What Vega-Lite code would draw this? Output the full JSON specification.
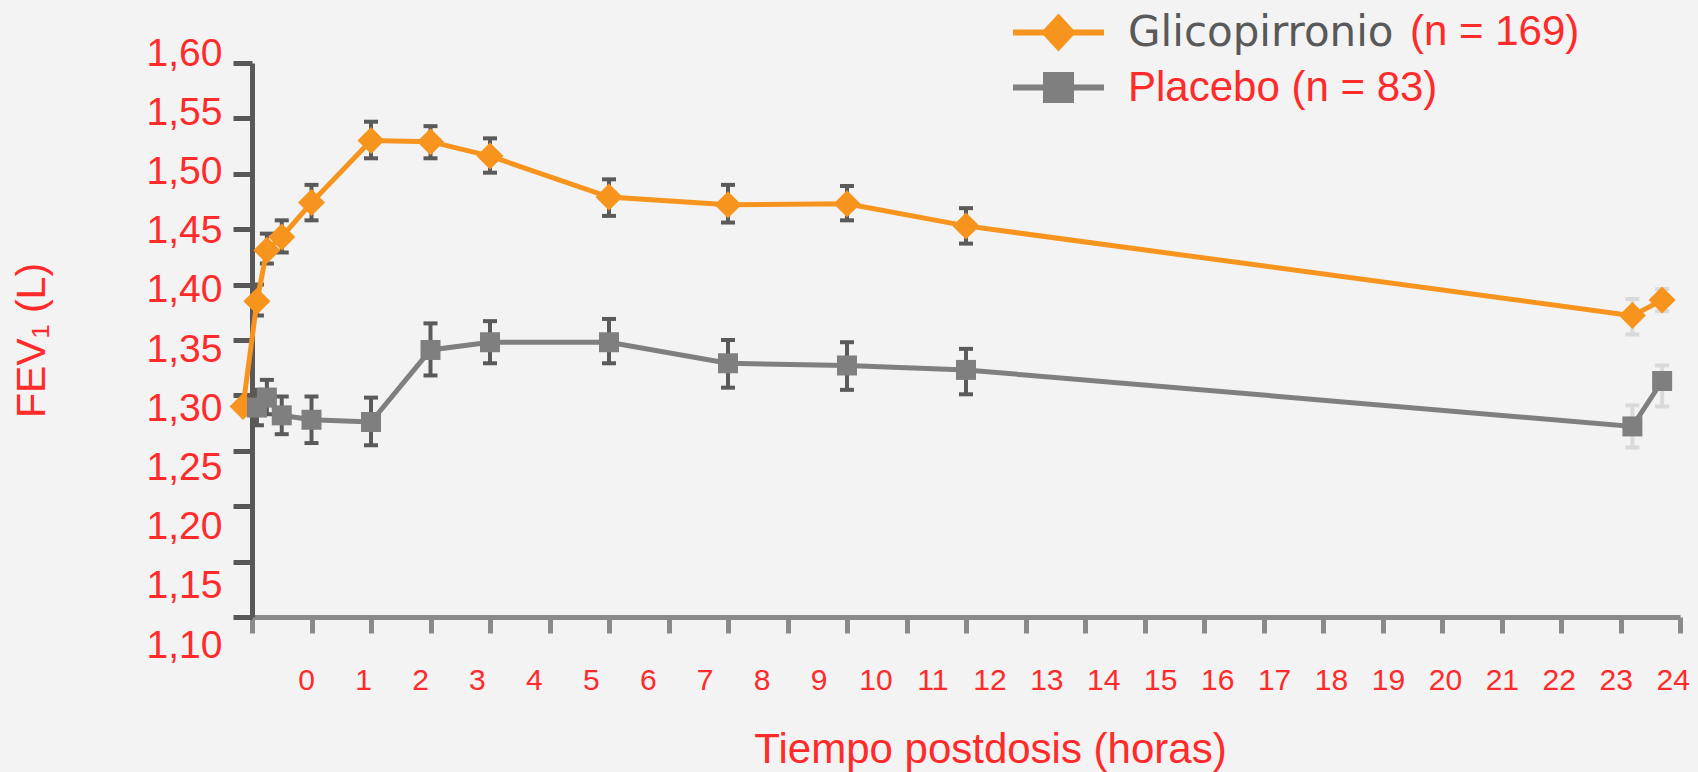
{
  "$schema": "https://vega.github.io/schema/vega-lite/v6.json",
  "width": 1428,
  "height": 554,
  "autosize": "none",
  "padding": {"left": 252, "top": 63, "right": 18, "bottom": 155},
  "background": "#f3f3f3",
  "config": {
    "view": {"stroke": null},
    "font": "Liberation Sans",
    "axis": {"grid": false, "labelFont": "Liberation Sans", "titleFont": "Liberation Sans", "titleFontWeight": "normal", "labelFlush": false, "labelOverlap": false}
  },
  "data": {
    "values": [
      {"series": "Glicopirronio", "n": 169, "hours": -0.15, "fev": 1.290, "lo": 1.290, "hi": 1.290},
      {"series": "Glicopirronio", "n": 169, "hours": 0.083, "fev": 1.385, "lo": 1.372, "hi": 1.400},
      {"series": "Glicopirronio", "n": 169, "hours": 0.25, "fev": 1.431, "lo": 1.419, "hi": 1.446},
      {"series": "Glicopirronio", "n": 169, "hours": 0.5, "fev": 1.443, "lo": 1.429, "hi": 1.458},
      {"series": "Glicopirronio", "n": 169, "hours": 1, "fev": 1.474, "lo": 1.458, "hi": 1.490},
      {"series": "Glicopirronio", "n": 169, "hours": 2, "fev": 1.530, "lo": 1.514, "hi": 1.547},
      {"series": "Glicopirronio", "n": 169, "hours": 3, "fev": 1.529, "lo": 1.514, "hi": 1.543},
      {"series": "Glicopirronio", "n": 169, "hours": 4, "fev": 1.516, "lo": 1.501, "hi": 1.532},
      {"series": "Glicopirronio", "n": 169, "hours": 6, "fev": 1.479, "lo": 1.462, "hi": 1.495},
      {"series": "Glicopirronio", "n": 169, "hours": 8, "fev": 1.472, "lo": 1.456, "hi": 1.490},
      {"series": "Glicopirronio", "n": 169, "hours": 10, "fev": 1.473, "lo": 1.458, "hi": 1.489},
      {"series": "Glicopirronio", "n": 169, "hours": 12, "fev": 1.453, "lo": 1.437, "hi": 1.469},
      {"series": "Glicopirronio", "n": 169, "hours": 23.2, "fev": 1.372, "lo": 1.355, "hi": 1.387},
      {"series": "Glicopirronio", "n": 169, "hours": 23.7, "fev": 1.386, "lo": 1.376, "hi": 1.396},
      {"series": "Placebo", "n": 83, "hours": 0.083, "fev": 1.289, "lo": 1.273, "hi": 1.305},
      {"series": "Placebo", "n": 83, "hours": 0.25, "fev": 1.298, "lo": 1.283, "hi": 1.314},
      {"series": "Placebo", "n": 83, "hours": 0.5, "fev": 1.282, "lo": 1.265, "hi": 1.299},
      {"series": "Placebo", "n": 83, "hours": 1, "fev": 1.278, "lo": 1.257, "hi": 1.299},
      {"series": "Placebo", "n": 83, "hours": 2, "fev": 1.276, "lo": 1.255, "hi": 1.298},
      {"series": "Placebo", "n": 83, "hours": 3, "fev": 1.341, "lo": 1.318, "hi": 1.365},
      {"series": "Placebo", "n": 83, "hours": 4, "fev": 1.348, "lo": 1.329, "hi": 1.367},
      {"series": "Placebo", "n": 83, "hours": 6, "fev": 1.348, "lo": 1.329, "hi": 1.369},
      {"series": "Placebo", "n": 83, "hours": 8, "fev": 1.329, "lo": 1.307, "hi": 1.350},
      {"series": "Placebo", "n": 83, "hours": 10, "fev": 1.327, "lo": 1.305, "hi": 1.348},
      {"series": "Placebo", "n": 83, "hours": 12, "fev": 1.323, "lo": 1.301, "hi": 1.342},
      {"series": "Placebo", "n": 83, "hours": 23.2, "fev": 1.272, "lo": 1.253, "hi": 1.291},
      {"series": "Placebo", "n": 83, "hours": 23.7, "fev": 1.313, "lo": 1.290, "hi": 1.327}
    ]
  },
  "encoding": {
    "x": {
      "field": "hours", "type": "quantitative",
      "scale": {"domain": [0, 24], "nice": false, "zero": false},
      "axis": {
        "orient": "bottom",
        "values": [0,1,2,3,4,5,6,7,8,9,10,11,12,13,14,15,16,17,18,19,20,21,22,23,24],
        "format": "d",
        "ticks": true, "tickSize": 16, "tickWidth": 5, "tickColor": "#8a8a8a",
        "domain": true, "domainColor": "#8a8a8a", "domainWidth": 5,
        "labelPadding": 32, "labelFontSize": 30, "labelColor": "#ff2a2a",
        "labelOffset": {"expr": "54.1 - 2.56 * datum.value"},
        "title": "Tiempo postdosis (horas)", "titleFontSize": 42, "titleColor": "#ff2a2a",
        "titlePadding": 34, "titleX": 738
      }
    },
    "y": {
      "field": "fev", "type": "quantitative",
      "scale": {"domain": [1.10, 1.60], "nice": false, "zero": false},
      "axis": {
        "orient": "left",
        "values": [1.10,1.15,1.20,1.25,1.30,1.35,1.40,1.45,1.50,1.55,1.60],
        "labelExpr": "replace(format(datum.value, '.2f'), '.', ',')",
        "ticks": true, "tickSize": 19, "tickWidth": 5, "tickColor": "#585858",
        "domain": true, "domainColor": "#585858", "domainWidth": 5,
        "labelPadding": 11, "labelFontSize": 39, "labelColor": "#ff2a2a",
        "labelOffset": {"expr": "(1.60 - datum.value) * 76 - 10"},
        "title": "FEV₁ (L)", "titleFontSize": 41, "titleColor": "#ff2a2a", "titlePadding": 93
      }
    }
  },
  "layer": [
    {
      "mark": {"type": "rule", "strokeWidth": 4},
      "encoding": {
        "y": {"field": "lo", "type": "quantitative"},
        "y2": {"field": "hi"},
        "color": {"condition": {"test": "datum.hours > 23", "value": "#dadada"}, "value": "#5a5a5a"}
      }
    },
    {
      "mark": {"type": "tick", "orient": "horizontal", "size": 14, "thickness": 4, "opacity": 1},
      "encoding": {
        "y": {"field": "lo", "type": "quantitative"},
        "color": {"condition": {"test": "datum.hours > 23", "value": "#dadada"}, "value": "#5a5a5a"}
      }
    },
    {
      "mark": {"type": "tick", "orient": "horizontal", "size": 14, "thickness": 4, "opacity": 1},
      "encoding": {
        "y": {"field": "hi", "type": "quantitative"},
        "color": {"condition": {"test": "datum.hours > 23", "value": "#dadada"}, "value": "#5a5a5a"}
      }
    },
    {
      "mark": {"type": "line", "strokeWidth": 5},
      "encoding": {
        "color": {
          "field": "series", "type": "nominal",
          "scale": {"domain": ["Glicopirronio", "Placebo"], "range": ["#f7941d", "#7f7f7f"]}
        }
      }
    },
    {
      "mark": {"type": "point", "filled": false, "opacity": 0, "size": 10},
      "encoding": {
        "stroke": {
          "field": "n", "type": "nominal",
          "scale": {"domain": [169, 83], "range": ["#ff2a2a", "#ff2a2a"]},
          "legend": {
            "title": null, "orient": "none", "legendX": 1116, "legendY": -52,
            "padding": 0, "labelOffset": 0, "rowPadding": 0, "symbolOpacity": 0,
            "labelFontSize": 42, "labelFont": "Liberation Sans", "labelColor": "#ff2a2a", "labelLimit": 1000,
            "labelExpr": "datum.value == 169 ? '(n = 169)' : ''"
          }
        }
      }
    },
    {
      "transform": [{"filter": "datum.series == 'Glicopirronio'"}],
      "mark": {"type": "point", "filled": true, "opacity": 1, "size": 729, "shape": "diamond"},
      "encoding": {
        "color": {
          "field": "series", "type": "nominal",
          "scale": {"domain": ["Glicopirronio", "Placebo"], "range": ["#f7941d", "#7f7f7f"]},
          "legend": {
            "title": null, "orient": "none", "legendX": 779, "legendY": -58,
            "padding": 0, "symbolSize": 3025, "symbolStrokeWidth": 0, "symbolOpacity": 1, "labelOffset": 42, "rowPadding": 6,
            "symbolType": {"expr": "datum.value == 'Glicopirronio' ? 'M-1.655,-0.109L-0.536,-0.109L0,-0.691L0.536,-0.109L1.655,-0.109L1.655,0.109L0.536,0.109L0,0.691L-0.536,0.109L-1.655,0.109Z' : 'M-1.655,-0.109L-0.564,-0.109L-0.564,-0.564L0.564,-0.564L0.564,-0.109L1.655,-0.109L1.655,0.109L0.564,0.109L0.564,0.564L-0.564,0.564L-0.564,0.109L-1.655,0.109Z'"},
            "labelFontSize": 42, "labelLimit": 1000,
            "labelFont": {"expr": "datum.value == 'Glicopirronio' ? 'DejaVu Sans' : 'Liberation Sans'"},
            "labelColor": {"expr": "datum.value == 'Glicopirronio' ? '#595959' : '#ff2a2a'"},
            "labelExpr": "datum.value == 'Glicopirronio' ? 'Glicopirronio' : 'Placebo (n = 83)'"
          }
        }
      }
    },
    {
      "transform": [{"filter": "datum.series == 'Placebo'"}],
      "mark": {"type": "point", "filled": true, "opacity": 1, "size": 400, "shape": "square"},
      "encoding": {
        "color": {
          "field": "series", "type": "nominal",
          "scale": {"domain": ["Glicopirronio", "Placebo"], "range": ["#f7941d", "#7f7f7f"]}
        }
      }
    }
  ]
}
